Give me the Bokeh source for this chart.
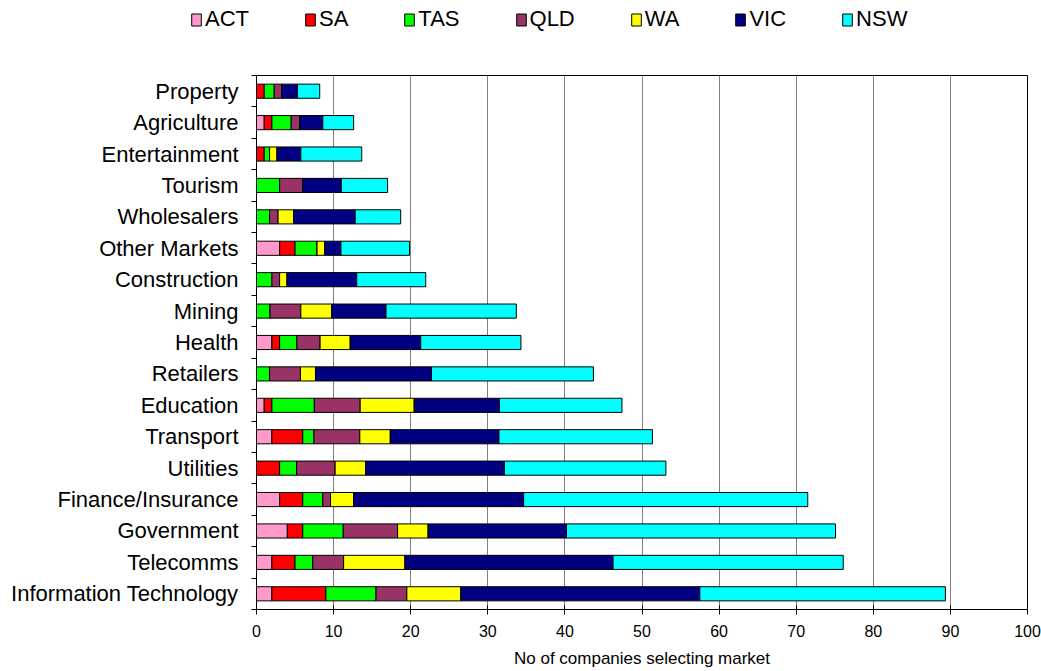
from bokeh.plotting import figure
from bokeh.models import Range1d, FixedTicker, ColumnDataSource, Legend, LegendItem
from bokeh.layouts import column
from bokeh.embed import file_html
from bokeh.resources import INLINE

# Categories, top to bottom as shown
categories = ["Property", "Agriculture", "Entertainment", "Tourism", "Wholesalers",
              "Other Markets", "Construction", "Mining", "Health", "Retailers",
              "Education", "Transport", "Utilities", "Finance/Insurance",
              "Government", "Telecomms", "Information Technology"]

states = ["ACT", "SA", "TAS", "QLD", "WA", "VIC", "NSW"]
colors = ["#FF99CC", "#FF0000", "#00FF00", "#993366", "#FFFF00", "#000080", "#00FFFF"]

ACT = [0, 1.0, 0, 0, 0, 3.0, 0, 0, 2.0, 0, 1.0, 2.0, 0, 3.0, 4.0, 2.0, 2.0]
SA  = [1.0, 1.0, 1.0, 0, 0, 2.0, 0, 0, 1.0, 0, 1.0, 4.0, 3.0, 3.0, 2.0, 3.0, 7.0]
TAS = [1.3, 2.5, 0.7, 3.0, 1.7, 2.85, 2.0, 1.75, 2.25, 1.7, 5.5, 1.45, 2.2, 2.6, 5.25, 2.3, 6.5]
QLD = [1.0, 1.1, 0, 3.0, 1.1, 0, 1.0, 4.0, 3.0, 4.0, 5.95, 5.95, 5.0, 1.0, 7.05, 4.0, 4.0]
WA  = [0, 0, 0.95, 0, 2.0, 1.0, 0.95, 4.0, 3.9, 1.95, 7.0, 3.95, 3.95, 3.0, 3.95, 7.95, 7.0]
VIC = [2.0, 3.0, 3.1, 5.0, 8.0, 2.1, 9.05, 7.05, 9.15, 15.05, 11.05, 14.1, 18.0, 22.05, 17.95, 27.0, 31.0]
NSW = [2.9, 4.0, 7.9, 6.0, 5.9, 8.9, 8.95, 16.9, 13.0, 21.0, 15.9, 19.9, 20.95, 36.85, 34.9, 29.85, 31.85]

x_ticks = [0, 10, 20, 30, 40, 50, 60, 70, 80, 90, 100]

n = len(categories)
ypos = [n - 1 - i for i in range(n)]  # Property at top

data = {"y": ypos, "ACT": ACT, "SA": SA, "TAS": TAS, "QLD": QLD, "WA": WA, "VIC": VIC, "NSW": NSW}
source = ColumnDataSource(data)

font = "Liberation Sans"

p = figure(width=1041, height=631, output_backend="svg", toolbar_location=None,
           x_range=Range1d(0, 100), y_range=Range1d(-0.5, n - 0.5),
           min_border_left=256, min_border_right=14, min_border_top=36, min_border_bottom=61)
p.frame_align = False

renderers = p.hbar_stack(states, y="y", height=0.45, color=colors, source=source,
                         line_color="black", line_width=1)

# X axis
p.xaxis.ticker = FixedTicker(ticks=x_ticks)
p.xaxis.axis_label = "No of companies selecting market"
p.xaxis.axis_label_text_font = font
p.xaxis.axis_label_text_font_size = "17px"
p.xaxis.axis_label_text_font_style = "normal"
p.xaxis.axis_label_text_color = "black"
p.xaxis.axis_label_standoff = 9
p.xaxis.major_label_text_font = font
p.xaxis.major_label_text_font_size = "16px"
p.xaxis.major_label_text_color = "black"
p.xaxis.major_label_standoff = 10
p.xaxis.major_tick_in = 4
p.xaxis.major_tick_out = 5
p.xaxis.minor_tick_line_color = None
p.xaxis.axis_line_color = "black"
p.xaxis.major_tick_line_color = "black"

# Y axis
p.yaxis.ticker = FixedTicker(ticks=ypos, minor_ticks=[i - 0.5 for i in range(n + 1)])
p.yaxis.major_label_overrides = {ypos[i]: categories[i] for i in range(n)}
p.yaxis.major_label_text_font = font
p.yaxis.major_label_text_font_size = "22px"
p.yaxis.major_label_text_color = "black"
p.yaxis.major_label_standoff = 13
p.yaxis.major_tick_in = 0
p.yaxis.major_tick_out = 0
p.yaxis.minor_tick_in = 0
p.yaxis.minor_tick_out = 5
p.yaxis.minor_tick_line_color = "black"
p.yaxis.axis_line_color = "black"

# Grid
p.xgrid.grid_line_color = "#808080"
p.xgrid.grid_line_width = 1
p.ygrid.grid_line_color = None
p.outline_line_color = "black"
p.outline_line_width = 1

# Legend in a strip above the chart
lf = figure(width=1041, height=39, output_backend="svg", toolbar_location=None,
            x_range=Range1d(0, 1), y_range=Range1d(0, 1),
            min_border_left=0, min_border_right=0, min_border_top=0, min_border_bottom=0)
lf.frame_align = False
lf.axis.visible = False
lf.grid.visible = False
lf.outline_line_color = None
dummy = [lf.rect(x=[-5], y=[-5], width=0.1, height=0.1, fill_color=c, line_color="black")
         for c in colors]
items = [LegendItem(label=s, renderers=[r]) for s, r in zip(states, dummy)]
legend = Legend(items=items, orientation="horizontal", location=(190, 7),
                label_text_font=font, label_text_font_size="22px", label_text_color="black",
                glyph_width=12, glyph_height=15, label_standoff=3, spacing=55,
                border_line_color=None, background_fill_alpha=0, padding=0, margin=0)
lf.add_layout(legend, "center")

layout = column(lf, p, spacing=0)
open("out.html", "w").write(file_html(layout, INLINE))
